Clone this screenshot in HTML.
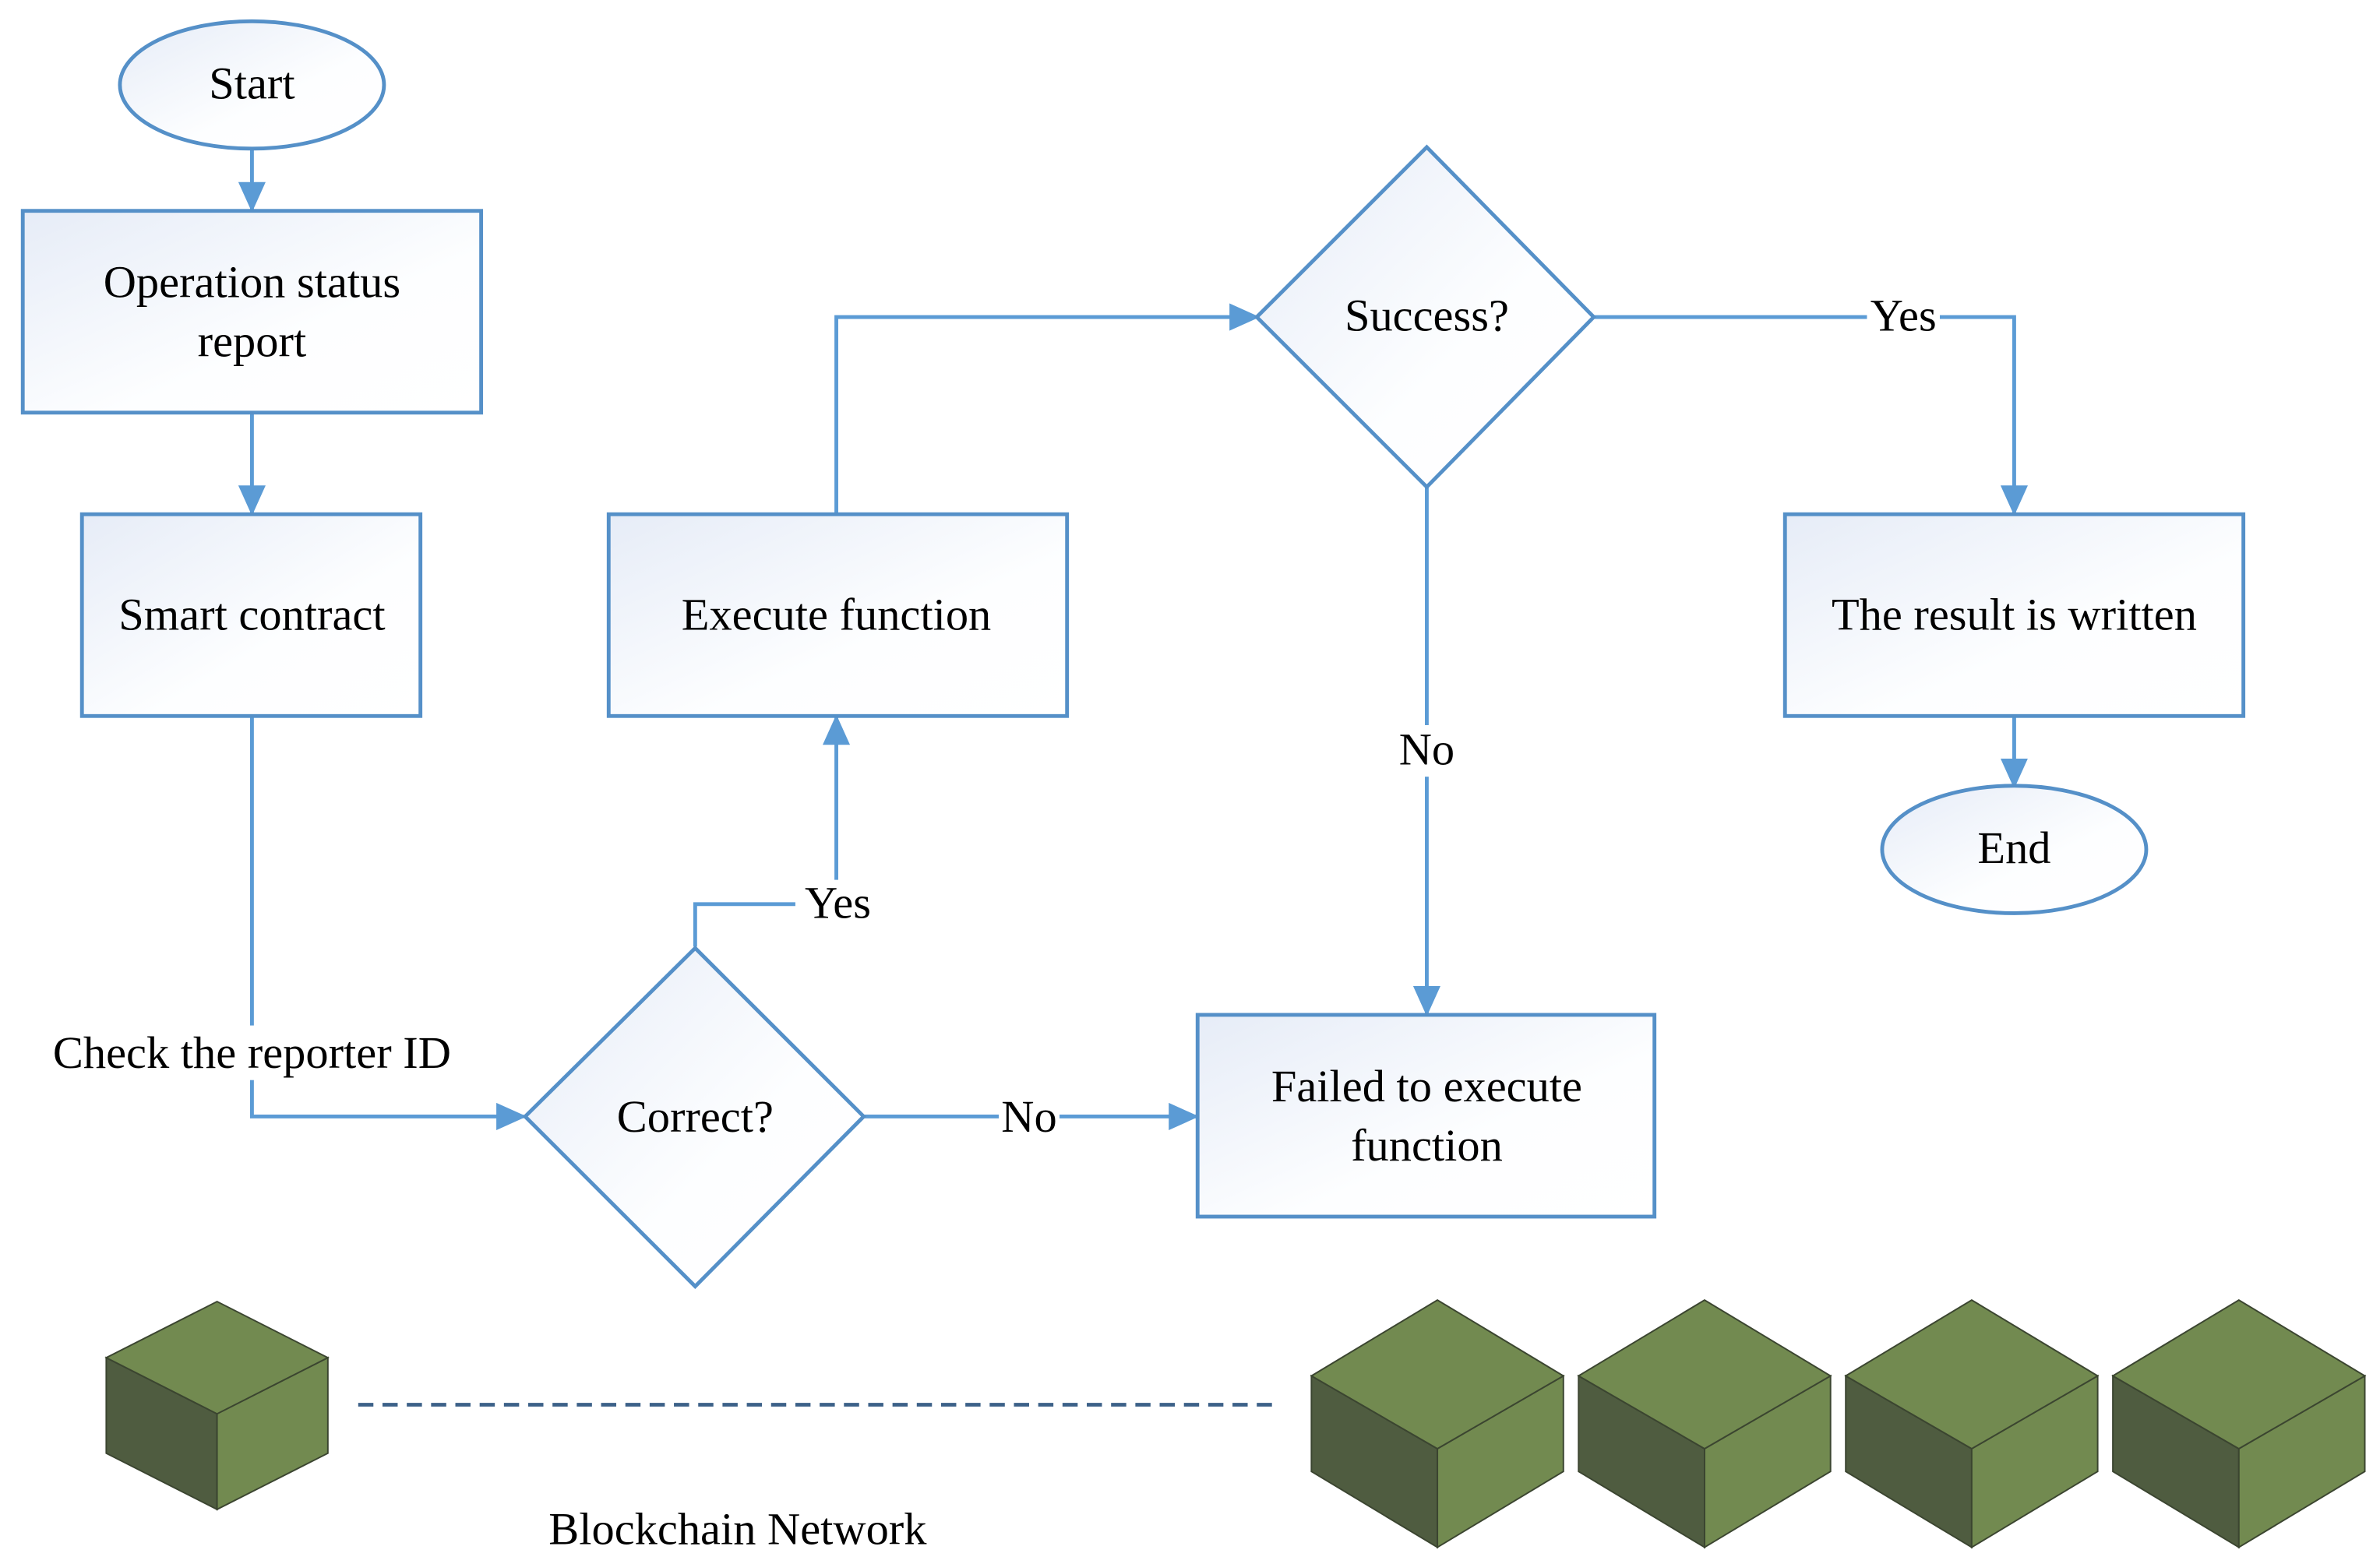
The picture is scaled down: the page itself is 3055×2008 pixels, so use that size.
<!DOCTYPE html>
<html><head><style>html,body{margin:0;padding:0;background:#fff}svg{display:block}text{font-family:"Liberation Serif","Times New Roman",serif;font-size:30px}</style></head>
<body>
<svg width="3055" height="2008" viewBox="0 0 1568 1031" preserveAspectRatio="none" xmlns="http://www.w3.org/2000/svg">
<defs>
<linearGradient id="g" x1="0" y1="0" x2="1" y2="1"><stop offset="0" stop-color="#e6ecf7"/><stop offset="0.6" stop-color="#fdfeff"/><stop offset="1" stop-color="#ffffff"/></linearGradient>
<marker id="b" markerWidth="20" markerHeight="18" refX="18" refY="9" orient="auto" markerUnits="userSpaceOnUse" viewBox="0 0 20 18"><path d="M0,0 L20,9 L0,18 z" fill="#5b9bd5"/></marker>
</defs>
<g fill="none" stroke="#5b9bd5" stroke-width="2.5">
<path d="M166,99 V138" marker-end="url(#b)"/>
<path d="M166,273 V338" marker-end="url(#b)"/>
<path d="M166,473 V736 H345" marker-end="url(#b)"/>
<path d="M458,624 V596 H551 V473" marker-end="url(#b)"/>
<path d="M551,338 V209 H828" marker-end="url(#b)"/>
<path d="M569,736 H788" marker-end="url(#b)"/>
<path d="M940,321 V668" marker-end="url(#b)"/>
<path d="M1050,209 H1327 V338" marker-end="url(#b)"/>
<path d="M1327,473 V518" marker-end="url(#b)"/>
</g>
<g stroke="#5590c8" stroke-width="2.5" fill="url(#g)">
<ellipse cx="166" cy="56" rx="87" ry="42"/>
<rect x="15" y="139" width="302" height="133"/>
<rect x="54" y="339" width="223" height="133"/>
<rect x="401" y="339" width="302" height="133"/>
<rect x="1176" y="339" width="302" height="133"/>
<rect x="789" y="669" width="301" height="133"/>
<ellipse cx="1327" cy="560" rx="87" ry="42"/>
<path d="M940,97 L1050,209 L940,321 L828,209 Z"/>
<path d="M458,625 L569,736 L458,848 L346,736 Z"/>
</g>
<g fill="#fff"><rect x="524" y="580" width="54" height="32"/><rect x="1230" y="193" width="48" height="32"/><rect x="658" y="720" width="40" height="32"/><rect x="917" y="478" width="44" height="34"/><rect x="22" y="676" width="286" height="36"/></g>
<g text-anchor="middle" fill="#000">
<text x="166" y="65">Start</text>
<text x="166" y="196">Operation status</text>
<text x="166" y="235">report</text>
<text x="166" y="415">Smart contract</text>
<text x="551" y="415">Execute function</text>
<text x="1327" y="415">The result is written</text>
<text x="940" y="726">Failed to execute</text>
<text x="940" y="765">function</text>
<text x="1327" y="569">End</text>
<text x="940" y="218">Success?</text>
<text x="458" y="746">Correct?</text>
<text x="552" y="605">Yes</text>
<text x="1254" y="218">Yes</text>
<text x="678" y="746">No</text>
<text x="940" y="504">No</text>
<text x="166" y="704">Check the reporter ID</text>
<text x="486" y="1018">Blockchain Network</text>
</g>
<path d="M236,926 H838" stroke="#3c6188" stroke-width="2.5" stroke-dasharray="10,6"/>
<g stroke="#3b4530" stroke-width="1">
<g id="c">
<path d="M864,907 L947,955 L947,1020 L864,970 Z" fill="#4f5c40"/>
<path d="M947,955 L1030,907 L1030,970 L947,1020 Z" fill="#728a50"/>
<path d="M864,907 L947,857 L1030,907 L947,955 Z" fill="#728a50"/>
</g>
<use href="#c" x="176"/>
<use href="#c" x="352"/>
<use href="#c" x="528"/>
<path d="M70,895 L143,932 L143,995 L70,958 Z" fill="#4f5c40"/>
<path d="M143,932 L216,895 L216,958 L143,995 Z" fill="#728a50"/>
<path d="M70,895 L143,858 L216,895 L143,932 Z" fill="#728a50"/>
</g>
</svg>
</body></html>
